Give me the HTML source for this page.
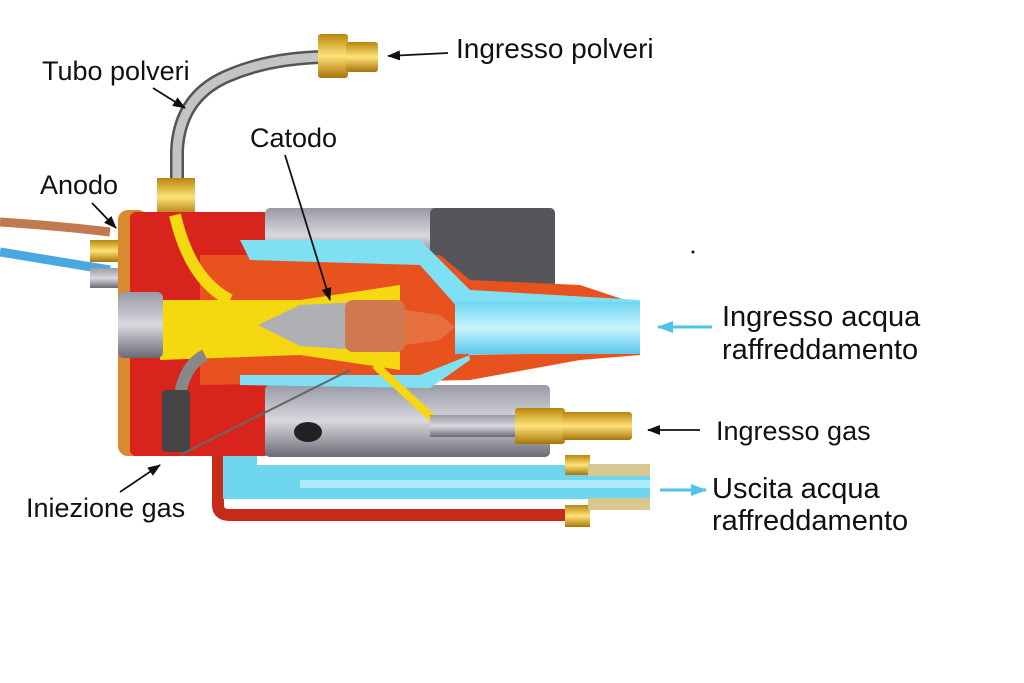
<!DOCTYPE html>
<html><head><meta charset="utf-8"><style>
html,body{margin:0;padding:0;background:#fff}
svg{display:block}
text{font-family:"Liberation Sans",sans-serif;fill:#111}
</style></head><body>
<svg width="1024" height="683" viewBox="0 0 1024 683" xmlns="http://www.w3.org/2000/svg">
<defs>
<linearGradient id="gray" x1="0" y1="0" x2="0" y2="1"><stop offset="0" stop-color="#9a9aa6"/><stop offset="0.5" stop-color="#d8d8de"/><stop offset="1" stop-color="#6a6a74"/></linearGradient>
<linearGradient id="gold" x1="0" y1="0" x2="0" y2="1"><stop offset="0" stop-color="#b8860b"/><stop offset="0.5" stop-color="#ffe27a"/><stop offset="1" stop-color="#a87408"/></linearGradient>
<linearGradient id="water" x1="0" y1="0" x2="0" y2="1"><stop offset="0" stop-color="#6fd6f0"/><stop offset="0.5" stop-color="#c8f4ff"/><stop offset="1" stop-color="#5cc8ea"/></linearGradient>
<marker id="ar" markerWidth="13" markerHeight="10" refX="12" refY="5" orient="auto" markerUnits="userSpaceOnUse"><path d="M0,0 L13,5 L0,10 Z" fill="#111"/></marker>
<marker id="arb" markerWidth="16" markerHeight="12" refX="15" refY="6" orient="auto" markerUnits="userSpaceOnUse"><path d="M0,0 L16,6 L0,12 Z" fill="#4fc3e8"/></marker>
</defs>
<path d="M0,222 Q60,226 110,232" stroke="#c07a50" stroke-width="9" fill="none"/>
<path d="M0,252 Q60,262 110,270" stroke="#4aa8e0" stroke-width="9" fill="none"/>
<rect x="90" y="240" width="32" height="22" fill="url(#gold)"/>
<rect x="90" y="268" width="32" height="20" fill="url(#gray)"/>
<path d="M177,215 L177,150 Q180,95 230,75 Q270,58 325,57" stroke="#555" stroke-width="14" fill="none"/>
<path d="M177,215 L177,150 Q180,95 230,75 Q270,58 325,57" stroke="#c4c4c8" stroke-width="9" fill="none"/>
<rect x="318" y="34" width="30" height="44" rx="3" fill="url(#gold)"/>
<rect x="346" y="42" width="32" height="30" rx="3" fill="url(#gold)"/>
<rect x="157" y="178" width="38" height="38" fill="url(#gold)"/>
<path d="M218,395 L218,505 Q218,515 230,515 L570,515" stroke="#c82a1a" stroke-width="12" fill="none"/>
<path d="M240,385 L240,482 L650,482" stroke="#6fd6f0" stroke-width="34" fill="none"/>
<path d="M300,484 L650,484" stroke="#c8f4ff" stroke-width="8" fill="none" opacity="0.7"/>
<rect x="565" y="455" width="25" height="20" fill="url(#gold)"/>
<rect x="565" y="505" width="25" height="22" fill="url(#gold)"/>
<rect x="588" y="464" width="62" height="12" fill="#d8c890"/>
<rect x="588" y="498" width="62" height="12" fill="#d8c890"/>
<rect x="118" y="210" width="30" height="246" rx="10" fill="#d9892e"/>
<rect x="130" y="212" width="140" height="244" rx="6" fill="#d8241c"/>
<rect x="265" y="208" width="290" height="55" rx="5" fill="url(#gray)"/>
<rect x="430" y="208" width="125" height="80" rx="5" fill="#55555c"/>
<rect x="265" y="385" width="285" height="72" rx="5" fill="url(#gray)"/>
<ellipse cx="308" cy="432" rx="14" ry="10" fill="#222"/>
<path d="M200,255 L440,255 L470,280 L580,285 L640,305 L640,355 L580,360 L470,380 L200,385 Z" fill="#e8521e"/>
<path d="M240,240 L420,240 L470,290 L640,300 L640,352 L470,355 L420,375 L240,375 L240,385 L430,388 L470,360 L460,310 L420,265 L250,260 Z" fill="#7fe0f4"/>
<rect x="455" y="302" width="185" height="52" fill="url(#water)"/>
<path d="M160,300 L300,300 L400,285 L400,370 L300,355 L160,360 Z" fill="#f5d810"/>
<path d="M175,215 Q190,280 230,300" stroke="#f5d810" stroke-width="12" fill="none"/>
<path d="M375,365 L445,430 L520,430" stroke="#f5d810" stroke-width="8" fill="none"/>
<rect x="430" y="415" width="90" height="22" fill="url(#gray)"/>
<rect x="515" y="408" width="50" height="36" rx="3" fill="url(#gold)"/>
<rect x="562" y="412" width="70" height="28" rx="3" fill="url(#gold)"/>
<path d="M258,325 L300,305 L360,302 L360,350 L300,346 Z" fill="#b0b0b4"/>
<rect x="345" y="300" width="60" height="52" rx="8" fill="#d07850"/>
<path d="M405,310 L440,315 L455,327 L440,340 L405,345 Z" fill="#e87040"/>
<rect x="118" y="292" width="45" height="66" rx="6" fill="url(#gray)"/>
<path d="M205,355 Q185,365 180,395" stroke="#888" stroke-width="12" fill="none"/>
<rect x="162" y="390" width="28" height="62" rx="4" fill="#444"/>
<line x1="180" y1="455" x2="350" y2="370" stroke="#666" stroke-width="2"/>
<g font-size="27">
<text x="42" y="80">Tubo polveri</text>
<text x="456" y="58" font-size="28">Ingresso polveri</text>
<text x="250" y="147">Catodo</text>
<text x="40" y="194">Anodo</text>
<text x="716" y="440">Ingresso gas</text>
<text x="26" y="517">Iniezione gas</text>
</g>
<g font-size="29">
<text x="722" y="326">Ingresso acqua</text>
<text x="722" y="359">raffreddamento</text>
<text x="712" y="498">Uscita acqua</text>
<text x="712" y="530">raffreddamento</text>
</g>
<g stroke="#111" stroke-width="1.8" fill="none">
<line x1="153" y1="88" x2="185" y2="108" marker-end="url(#ar)"/>
<line x1="448" y1="53" x2="388" y2="56" marker-end="url(#ar)"/>
<line x1="285" y1="155" x2="330" y2="300" marker-end="url(#ar)"/>
<line x1="92" y1="203" x2="116" y2="228" marker-end="url(#ar)"/>
<line x1="700" y1="430" x2="648" y2="430" marker-end="url(#ar)"/>
<line x1="120" y1="492" x2="160" y2="465" marker-end="url(#ar)"/>
</g>
<line x1="712" y1="327" x2="658" y2="327" stroke="#4fc3e8" stroke-width="3" marker-end="url(#arb)"/>
<line x1="660" y1="490" x2="706" y2="490" stroke="#4fc3e8" stroke-width="3" marker-end="url(#arb)"/>
<circle cx="693" cy="252" r="1.5" fill="#111"/>
</svg>
</body></html>
